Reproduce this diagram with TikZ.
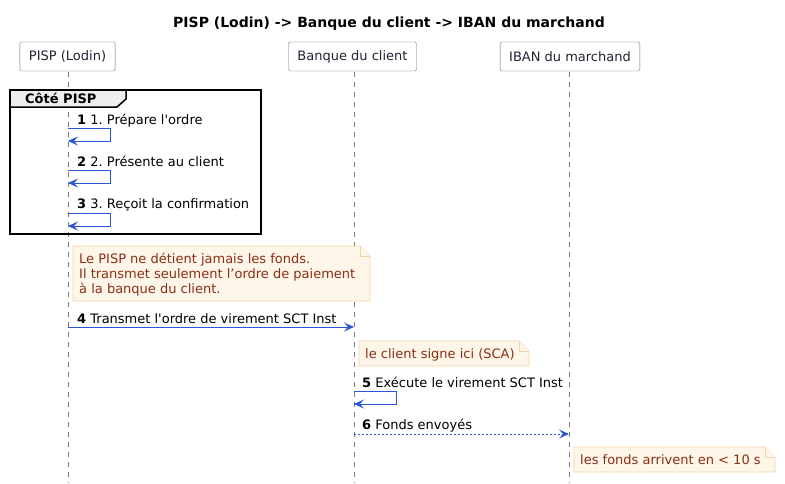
\documentclass[tikz,border=0pt]{standalone}
\usepackage{fontspec}
\setmainfont{DejaVu Sans}
\usetikzlibrary{arrows.meta}
\definecolor{msgblue}{HTML}{2A55D4}
\definecolor{partline}{HTML}{5E6A7E}
\definecolor{parttext}{HTML}{1E2433}
\definecolor{notefill}{HTML}{FFF6EA}
\definecolor{noteline}{HTML}{F5D3A6}
\definecolor{notetext}{HTML}{8A2E14}
\definecolor{lifeline}{HTML}{7A7A7A}
\definecolor{tabfill}{HTML}{EEEEEE}
\tikzset{
  part/.style={draw=partline, rounded corners=1.5pt, fill=white, text=parttext, minimum height=29pt, inner xsep=9pt, font=\fontsize{13}{15}\selectfont},
  life/.style={draw=lifeline, dash pattern=on 5pt off 5pt, line width=0.6pt},
  msg/.style={draw=msgblue, line width=0.9pt, -{Stealth[length=10pt,width=9pt,inset=4pt]}},
  msgdot/.style={msg, dash pattern=on 2pt off 2pt},
  lbl/.style={anchor=base west, inner sep=0pt, font=\fontsize{13}{15}\selectfont, text=black},
  notetxt/.style={anchor=base west, inner sep=0pt, font=\fontsize{13}{15}\selectfont, text=notetext},
  notebox/.style={draw=noteline, fill=notefill, line width=0.6pt},
}
\newcommand{\notefold}[4]{% x1 y1 x2 y2
  \filldraw[notebox] (#1,#2) -- (#3-10,#2) -- (#3,#2+10) -- (#3,#4) -- (#1,#4) -- cycle;
  \draw[notebox, fill=notefill] (#3-10,#2) -- (#3-10,#2+10) -- (#3,#2+10);
}
\newcommand{\sq}{\textquotesingle}
\begin{document}
\frenchspacing
\begin{tikzpicture}[x=1pt,y=-1pt]
\useasboundingbox[fill=white] (0,0) rectangle (785,483);
% title
\node[font=\bfseries\fontsize{14}{16}\selectfont, anchor=base] (title) at (389,27) {PISP (Lodin) -> Banque du client -> IBAN du marchand};
% lifelines
\coordinate (la) at (68,72); \coordinate (lae) at (68,483);
\coordinate (lb) at (354,72); \coordinate (lbe) at (354,483);
\coordinate (lc) at (569,72); \coordinate (lce) at (569,483);
\draw[life] (la) -- (lae);
\draw[life] (lb) -- (lbe);
\draw[life] (lc) -- (lce);
% participants
\node[part] (pisp) at (67.5,56.5) {PISP (Lodin)};
\node[part] (banque) at (352.5,56.5) {Banque du client};
\node[part] (iban) at (570,56.5) {IBAN du marchand};
% group
\draw[line width=1.5pt, draw=black] (10,90) rectangle (261,234);
\filldraw[line width=1.5pt, draw=black, fill=tabfill] (10,90) -- (126,90) -- (126,99) -- (117,107) -- (10,107) -- cycle;
\node[anchor=base west, inner sep=0pt, font=\bfseries\fontsize{13}{15}\selectfont] (grp) at (25,103) {Côté PISP};
% message 1
\node[lbl] (m1) at (77,124) {\textbf{1} 1. Prépare l\sq ordre};
\coordinate (s1a) at (68,128); \coordinate (s1b) at (110,128); \coordinate (s1c) at (110,141); \coordinate (s1d) at (68,141);
\draw[msg] (s1a) -- (s1b) -- (s1c) -- (s1d);
% message 2
\node[lbl] (m2) at (77,166) {\textbf{2} 2. Présente au client};
\coordinate (s2a) at (68,170); \coordinate (s2b) at (110,170); \coordinate (s2c) at (110,183); \coordinate (s2d) at (68,183);
\draw[msg] (s2a) -- (s2b) -- (s2c) -- (s2d);
% message 3
\node[lbl] (m3) at (77,208) {\textbf{3} 3. Reçoit la confirmation};
\coordinate (s3a) at (68,213); \coordinate (s3b) at (110,213); \coordinate (s3c) at (110,226); \coordinate (s3d) at (68,226);
\draw[msg] (s3a) -- (s3b) -- (s3c) -- (s3d);
% note 1
\notefold{73}{246}{370}{301}
\node[notetxt] (n1a) at (79,263) {Le PISP ne détient jamais les fonds.};
\node[notetxt] (n1b) at (79,278) {Il transmet seulement l’ordre de paiement};
\node[notetxt] (n1c) at (79,293) {à la banque du client.};
% message 4
\node[lbl] (m4) at (77,323) {\textbf{4} Transmet l\sq ordre de virement SCT Inst};
\coordinate (a4) at (68,327); \coordinate (b4) at (354,327);
\draw[msg] (a4) -- (b4);
% note 2
\notefold{359}{341}{529}{366}
\node[notetxt] (n2) at (365,358) {le client signe ici (SCA)};
% message 5
\node[lbl] (m5) at (362,387) {\textbf{5} Exécute le virement SCT Inst};
\coordinate (s5a) at (354,391); \coordinate (s5b) at (396,391); \coordinate (s5c) at (396,404); \coordinate (s5d) at (354,404);
\draw[msg] (s5a) -- (s5b) -- (s5c) -- (s5d);
% message 6
\node[lbl] (m6) at (362,429) {\textbf{6} Fonds envoyés};
\coordinate (a6) at (354,434); \coordinate (b6) at (569,434);
\draw[msgdot] (a6) -- (b6);
% note 3
\notefold{574}{447}{775}{472}
\node[notetxt] (n3) at (580,464) {les fonds arrivent en < 10 s};
\end{tikzpicture}
\end{document}
